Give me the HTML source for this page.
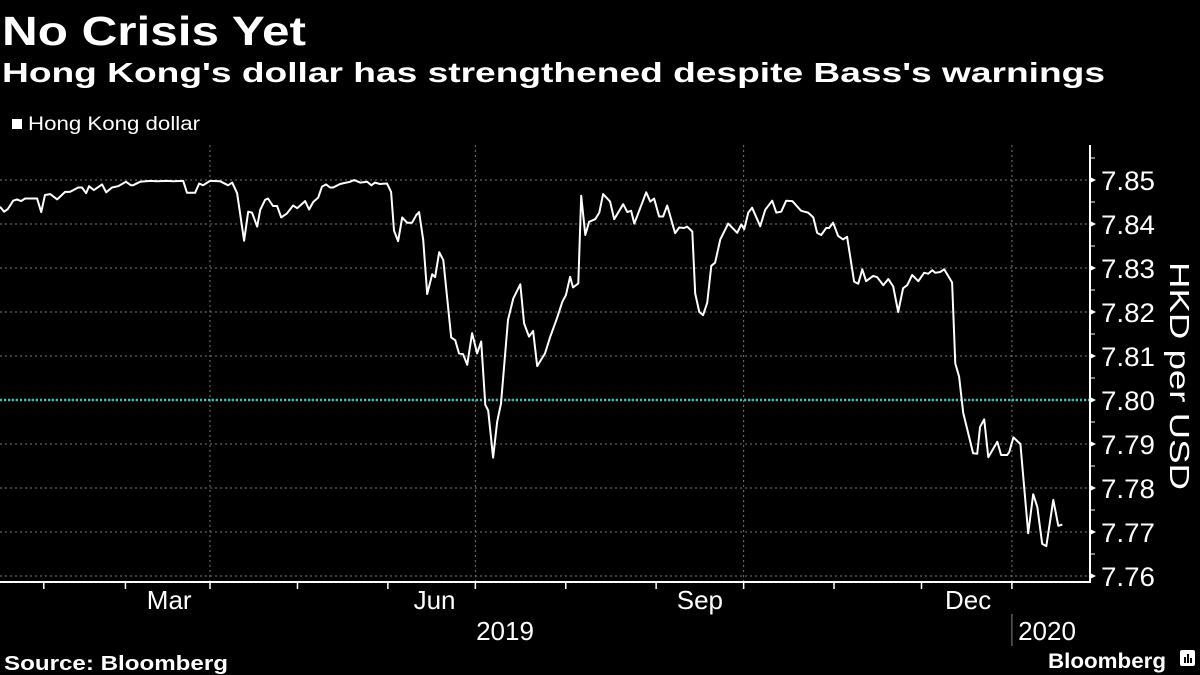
<!DOCTYPE html>
<html><head><meta charset="utf-8"><style>
html,body{margin:0;padding:0;background:#000;}
svg{display:block;font-family:"Liberation Sans",sans-serif;}
</style></head><body>
<svg id="chart" width="1200" height="675" viewBox="0 0 1200 675" xmlns="http://www.w3.org/2000/svg">
<rect width="1200" height="675" fill="#000"/>
<text x="2" y="45" fill="#fff" font-size="41" font-weight="bold" textLength="304" lengthAdjust="spacingAndGlyphs">No Crisis Yet</text>
<text x="2" y="82" fill="#fff" font-size="28" font-weight="bold" textLength="1103" lengthAdjust="spacingAndGlyphs">Hong Kong's dollar has strengthened despite Bass's warnings</text>
<g>
<rect x="12" y="119" width="10" height="10" fill="#fff"/>
<text x="28" y="130" fill="#fff" font-size="19" textLength="172" lengthAdjust="spacingAndGlyphs">Hong Kong dollar</text>
</g>
<g id="grid"></g>
<g id="axes"></g>
<path id="line" fill="none" stroke="#fff" stroke-width="2" stroke-linejoin="round"/>
<text transform="translate(1170,376) rotate(90)" fill="#fff" font-size="28" text-anchor="middle" textLength="228" lengthAdjust="spacingAndGlyphs">HKD per USD</text>
<text x="4" y="670" fill="#fff" font-size="20" font-weight="bold" textLength="224" lengthAdjust="spacingAndGlyphs">Source: Bloomberg</text>
<g>
<text x="1048" y="668" fill="#fff" font-size="21" font-weight="bold" textLength="118" lengthAdjust="spacingAndGlyphs">Bloomberg</text>
<rect x="1180" y="650" width="15" height="16" rx="2" fill="#fff"/>
<rect x="1184" y="657" width="2" height="6" fill="#000"/><rect x="1187" y="654" width="2" height="9" fill="#000"/><rect x="1190" y="658" width="2" height="5" fill="#000"/>
</g>
</svg>
<script>
// days since Jan 1 2019
const days=[18,19.4,20.7,22.5,23.8,25.2,26.6,30.7,32.1,33.4,35.2,37.6,40.3,42,44.8,46.1,47.5,48.5,50.2,53,54.4,56.4,58.5,61.2,62.9,63.6,66,69.5,71.9,75.3,77.3,80.8,82.1,84.9,86.3,87.6,90,93.5,96.2,97.6,99.3,101.7,103.1,104.4,106.2,107.2,108.9,109.9,111.6,113,114.4,116.4,118.5,119.9,122.6,124,125.4,127.1,128.4,129.8,131.2,132.2,134.6,138,139.4,141.5,143.9,145.3,146.6,148.3,150.7,152.1,153.1,154.5,155.9,157.6,159.3,160.7,161.7,163.1,164.5,166.2,167.2,168.6,170,172.7,174.1,175.4,176.8,178.2,179.9,181.6,183,184.4,185.4,187.1,188.5,189.8,192.2,194,196.4,197.7,199.4,200.8,202.2,204.9,206.7,209,210.8,212.1,213.5,214.5,216.3,217.3,218.7,220,222.1,223.5,224.8,227.2,228.6,231.7,233.1,234.4,235.5,239.6,241,242.3,244,245.4,246.8,249.5,250.9,252.6,253.6,255.4,256.4,257.8,259.1,260.5,261.9,263.2,265,267.7,270.8,272.2,273.2,274.6,275.9,278.7,280.4,282.8,284.2,285.9,287.6,289.7,292.7,295.1,296.9,298.2,299.6,301.3,302.3,303.7,305.4,307.1,308.5,310.9,312.3,313.7,315,317.4,318.8,320.9,322.6,324.3,326,327.7,329.1,330.8,332.9,334.9,336.3,337.7,338.7,340.4,341.8,344.5,345.6,346.9,348.3,351.7,353.1,354.1,355.5,356.9,360,361.3,363.4,364.1,365.5,367.9,370.6,372.3,373.7,375.4,376.8,379.2,380.9,382.3];
const values=[7.8439,7.8428,7.8434,7.8453,7.8456,7.8452,7.8458,7.8458,7.8427,7.8466,7.8468,7.8456,7.8473,7.8473,7.8483,7.8483,7.847,7.8486,7.8477,7.849,7.8472,7.8483,7.8486,7.8496,7.8488,7.8488,7.8496,7.8498,7.8497,7.8498,7.8497,7.8498,7.8471,7.8471,7.8492,7.8488,7.8498,7.8497,7.8488,7.8494,7.847,7.8362,7.8428,7.8426,7.8394,7.8432,7.8455,7.8458,7.8441,7.8441,7.8415,7.8424,7.8442,7.8436,7.8452,7.8433,7.845,7.846,7.8485,7.849,7.8483,7.8483,7.8491,7.8496,7.85,7.8494,7.8496,7.8488,7.8494,7.8491,7.8492,7.8473,7.8385,7.8361,7.8415,7.8403,7.8403,7.842,7.8427,7.8364,7.8241,7.8286,7.8279,7.8336,7.8318,7.8142,7.8136,7.8106,7.8104,7.808,7.8152,7.8106,7.8133,7.7989,7.7976,7.7869,7.7951,7.7992,7.8182,7.8231,7.8263,7.8174,7.8144,7.8157,7.8077,7.8106,7.8144,7.8186,7.8223,7.8239,7.828,7.8256,7.8265,7.8464,7.8375,7.8405,7.8411,7.8426,7.8468,7.8451,7.8411,7.8445,7.8427,7.843,7.8401,7.8472,7.8451,7.8458,7.8417,7.8417,7.8442,7.8379,7.8392,7.8391,7.8394,7.8383,7.8242,7.82,7.8193,7.8221,7.8305,7.8312,7.8365,7.8401,7.838,7.8399,7.8388,7.8426,7.8437,7.8395,7.8432,7.8453,7.8426,7.8428,7.8453,7.8452,7.843,7.8426,7.8415,7.838,7.8375,7.8391,7.8391,7.8403,7.8373,7.8365,7.8371,7.8269,7.8264,7.8297,7.827,7.8282,7.8279,7.8261,7.8275,7.8258,7.82,7.8254,7.8261,7.8284,7.827,7.8289,7.8287,7.8295,7.8289,7.8291,7.8297,7.8267,7.8083,7.8053,7.7971,7.7879,7.7878,7.7939,7.7956,7.787,7.7905,7.7875,7.7875,7.7882,7.7915,7.79,7.7697,7.7786,7.7757,7.7673,7.7668,7.7773,7.7714,7.7717];
const yTicks=[7.85,7.84,7.83,7.82,7.81,7.80,7.79,7.78,7.77,7.76];
const yTickLabels=["7.85","7.84","7.83","7.82","7.81","7.80","7.79","7.78","7.77","7.76"];
const quarterDays=[90,181,273,365];
const monthDays=[33,61,90,120,151,181,212,243,273,304,334,365];
const monthLabels=["Mar","Jun","Sep","Dec"];
const monthLabelDays=[76,167,258,350];
const refLevel=7.80;

const NS="http://www.w3.org/2000/svg";
const X=d=>210+(d-90)*2.916;
const Y=v=>180+(7.85-v)*4400;
function mk(tag,attrs,parent,text){const e=document.createElementNS(NS,tag);for(const k in attrs)e.setAttribute(k,attrs[k]);if(text!==undefined)e.textContent=text;parent.appendChild(e);return e;}
const grid=document.getElementById('grid'),axes=document.getElementById('axes');
yTicks.forEach((t,i)=>{
  const l=mk('line',{x1:0,x2:1090,y1:Y(t),y2:Y(t),stroke:'#777','stroke-width':1,'stroke-dasharray':'2,3'},grid);
  
  
  const tr=mk('path',{d:`M1090,${Y(t)-3}L1096,${Y(t)}L1090,${Y(t)+3}Z`,fill:'#fff'},axes);
  
  
  const tx=mk('text',{x:1101,y:Y(t)+10,fill:'#fff','font-size':27,textLength:54,lengthAdjust:'spacingAndGlyphs'},axes,yTickLabels[i]);
  
  
  if(i<yTicks.length-1){const m=mk('line',{x1:1090,x2:1095,y1:Y(t-0.005),y2:Y(t-0.005),stroke:'#fff'},axes);
  
  }
});
const mt=mk('line',{x1:1090,x2:1095,y1:Y(7.855),y2:Y(7.855),stroke:'#fff'},axes);


quarterDays.forEach(d=>{
  const l=mk('line',{x1:X(d),x2:X(d),y1:145,y2:582,stroke:'#777','stroke-width':1,'stroke-dasharray':'2,3'},grid);
  
  
});
const ref=mk('line',{x1:0,x2:1090,y1:Y(refLevel),y2:Y(refLevel),stroke:'#2ec4c4','stroke-width':2.5,'stroke-dasharray':'2,2'},grid);


const xa=mk('line',{x1:0,x2:1091,y1:582,y2:582,stroke:'#fff','stroke-width':2},axes);


const ya=mk('line',{x1:1090,x2:1090,y1:145,y2:583,stroke:'#fff','stroke-width':2},axes);


monthDays.forEach(d=>{
  const t=mk('line',{x1:X(d),x2:X(d),y1:582,y2:589,stroke:'#fff','stroke-width':1.5},axes);
  
  
});
monthLabels.forEach((m,i)=>{
  const t=mk('text',{x:X(monthLabelDays[i]),y:609,fill:'#fff','font-size':26,'text-anchor':'middle'},axes,m);
  
  
});
const y19=mk('text',{x:505,y:640,fill:'#fff','font-size':26,'text-anchor':'middle'},axes,'2019');


const y20=mk('text',{x:1047,y:640,fill:'#fff','font-size':26,'text-anchor':'middle'},axes,'2020');


const ys=mk('line',{x1:X(365),x2:X(365),y1:614,y2:646,stroke:'#888','stroke-width':1},axes);


document.getElementById('line').setAttribute('d',days.map((d,i)=>(i?'L':'M')+X(d).toFixed(1)+','+Y(values[i]).toFixed(1)).join(''));
</script>
</body></html>
